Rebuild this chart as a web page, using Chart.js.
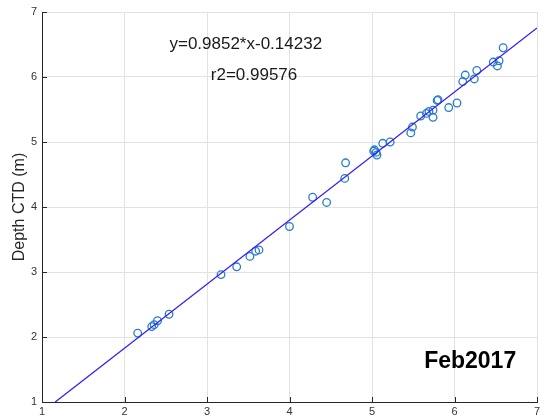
<!DOCTYPE html>
<html>
<head>
<meta charset="utf-8">
<script src="https://cdn.jsdelivr.net/npm/chart.js@4/dist/chart.umd.min.js"></script>
<style>
html,body{margin:0;padding:0;background:#fff;}
canvas{display:block;}
</style>
</head>
<body>
<canvas id="c" width="545" height="417"></canvas>
<script>
// Data
const echoDepth = [2.16,2.33,2.36,2.40,2.54,3.17,3.36,3.52,3.59,3.63,4.00,4.28,4.45,4.67,4.68,5.02,5.03,5.05,5.06,5.13,5.22,5.47,5.49,5.59,5.66,5.69,5.74,5.74,5.79,5.80,5.93,6.03,6.10,6.13,6.24,6.27,6.47,6.52,6.54,6.59];
const ctdDepth  = [2.06,2.16,2.19,2.25,2.35,2.96,3.08,3.24,3.32,3.34,3.70,4.15,4.07,4.44,4.68,4.86,4.88,4.84,4.80,4.98,5.00,5.14,5.23,5.40,5.44,5.47,5.49,5.38,5.64,5.65,5.53,5.60,5.93,6.03,5.97,6.10,6.23,6.17,6.25,6.45];
const fitX = [1.16, 7];
const fitY = [1.0, 6.754];
const xTicks = [1,2,3,4,5,6,7];
const yTicks = [1,2,3,4,5,6,7];
const eqText = 'y=0.9852*x-0.14232';
const r2Text = 'r2=0.99576';
const tagText = 'Feb2017';
const yTitle = 'Depth CTD (m)';

const points = echoDepth.map((x,i)=>({x:x,y:ctdDepth[i]}));
const fitLine = fitX.map((x,i)=>({x:x,y:fitY[i]}));

const deco = {
  id:'deco',
  afterDraw(chart){
    const ctx = chart.ctx;
    const xs = chart.scales.x, ys = chart.scales.y;
    const a = chart.chartArea;
    ctx.save();
    // inward tick marks (left and bottom axes)
    ctx.strokeStyle = '#262626';
    ctx.lineWidth = 1;
    ctx.beginPath();
    xTicks.forEach(v=>{
      const px = Math.round(xs.getPixelForValue(v))+0.5;
      ctx.moveTo(px, a.bottom); ctx.lineTo(px, a.bottom-5);
    });
    yTicks.forEach(v=>{
      const py = Math.round(ys.getPixelForValue(v))+0.5;
      ctx.moveTo(a.left, py); ctx.lineTo(a.left+5, py);
    });
    ctx.stroke();
    // annotations
    ctx.fillStyle = '#1a1a1a';
    ctx.textAlign = 'center';
    ctx.textBaseline = 'middle';
    ctx.font = '17px "Liberation Sans", Arial, sans-serif';
    ctx.fillText(eqText, xs.getPixelForValue(3.47), ys.getPixelForValue(6.50));
    ctx.fillText(r2Text, xs.getPixelForValue(3.57), ys.getPixelForValue(6.02));
    ctx.fillStyle = '#000';
    ctx.font = 'bold 23px "Liberation Sans", Arial, sans-serif';
    ctx.fillText(tagText, xs.getPixelForValue(6.19), ys.getPixelForValue(1.62));
    ctx.restore();
  }
};

new Chart(document.getElementById('c'), {
  type:'scatter',
  data:{
    datasets:[
      {
        label:'fit',
        data:fitLine,
        showLine:true,
        borderColor:'rgb(55,30,250)',
        borderWidth:1.3,
        pointRadius:0,
        fill:false
      },
      {
        label:'data',
        data:points,
        pointStyle:'circle',
        pointRadius:3.8,
        pointBorderWidth:1.3,
        pointBorderColor:'rgb(40,125,200)',
        pointBackgroundColor:'rgba(0,0,0,0)'
      }
    ]
  },
  options:{
    responsive:false,
    animation:false,
    events:[],
    layout:{padding:{top:12,right:8,bottom:0,left:0}},
    plugins:{legend:{display:false},tooltip:{enabled:false}},
    scales:{
      x:{
        type:'linear',min:1,max:7,
        afterFit(s){s.height=15;},
        afterBuildTicks(s){s.ticks = xTicks.map(v=>({value:v}));},
        grid:{color:'#e2e2e2',lineWidth:1,drawTicks:false},
        border:{color:'#262626',width:1},
        ticks:{padding:3,color:'#333',font:{size:11,family:'"Liberation Sans", Arial, sans-serif'},maxRotation:0}
      },
      y:{
        type:'linear',min:1,max:7,
        afterFit(s){s.width=42;},
        afterBuildTicks(s){s.ticks = yTicks.map(v=>({value:v}));},
        grid:{color:'#e2e2e2',lineWidth:1,drawTicks:false},
        border:{color:'#262626',width:1},
        ticks:{padding:5,color:'#333',font:{size:11,family:'"Liberation Sans", Arial, sans-serif'}},
        title:{display:true,text:yTitle,color:'#262626',padding:{top:10,bottom:0},font:{size:16,family:'"Liberation Sans", Arial, sans-serif'}}
      }
    }
  },
  plugins:[deco]
});
</script>
</body>
</html>
